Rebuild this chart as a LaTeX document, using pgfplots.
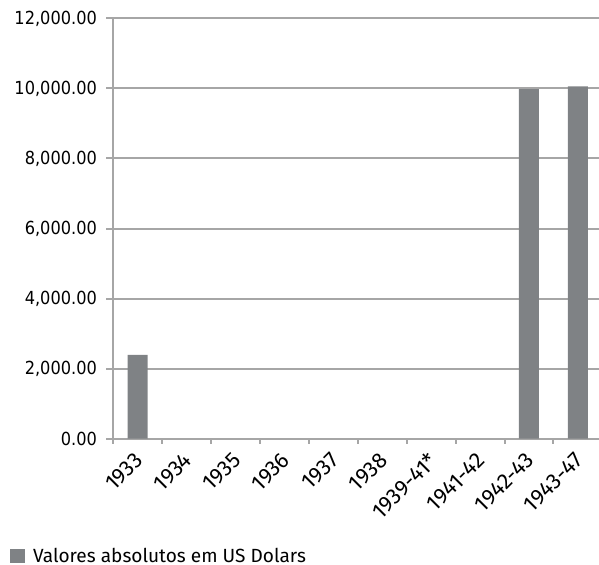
\documentclass[border=0pt]{standalone}
\usepackage{pgfplots}
\pgfplotsset{compat=1.18}
\usepackage{fontspec}
\setmainfont{Fira Sans}
\newfontfamily\yfont[FakeStretch=0.9]{DejaVu Sans}
\definecolor{barc}{RGB}{127,130,133}
\definecolor{gridc}{RGB}{166,166,166}
\begin{document}
\begin{tikzpicture}
\useasboundingbox (-84.975pt,-94.125pt) rectangle ++(449.25pt,423pt);
\begin{axis}[
  at={(0pt,0pt)}, anchor=south west,
  scale only axis, width=366.75pt, height=315pt,
  xmin=-0.5, xmax=9.5, ymin=0, ymax=12000,
  ytick={0,2000,...,12000},
  scaled y ticks=false,
  xtick={0,...,9},
  xticklabels={1933,1934,1935,1936,1937,1938,1939-41*,1941-42,1942-43,1943-47},
  minor xtick={-0.5,0.5,...,9.5},
  axis x line*=bottom, axis y line*=left,
  axis line style={gridc, line width=1.5pt, -},
  ymajorgrids,
  major grid style={gridc, line width=1.5pt},
  tick align=outside,
  major tick length=5.25pt,
  minor tick length=3.75pt,
  major x tick style={draw=none},
  minor x tick style={gridc, line width=1.5pt},
  major y tick style={gridc, line width=1.5pt},
  yticklabel style={font=\yfont\fontsize{13.5}{16}\selectfont, text=black, xshift=-3.5pt,
    /pgf/number format/fixed, /pgf/number format/fixed zerofill,
    /pgf/number format/precision=2, /pgf/number format/1000 sep={,},
    /pgf/number format/assume math mode=true},
  xticklabel style={xshift=-3pt, yshift=-4pt, font=\fontsize{16.5}{18}\selectfont, rotate=45, anchor=north east, inner sep=0pt},
  legend style={at={(axis description cs:-0.2112,-0.2798)}, anchor=west,
    draw=none, fill=none, inner sep=0pt, outer sep=0pt,
    nodes={inner sep=0pt, font=\fontsize{14.3}{17}\selectfont}},
  legend cell align=left,
  legend image code/.code={\fill[barc] (0pt,-5.25pt) rectangle (11.25pt,5.25pt); \path (17.25pt,0pt);},
]
\addplot[ybar, bar width=15pt, fill=barc, draw=none] coordinates {(0,2390) (8,9980) (9,10060)};
\addlegendentry{Valores absolutos em US Dolars}
\end{axis}
\end{tikzpicture}
\end{document}
